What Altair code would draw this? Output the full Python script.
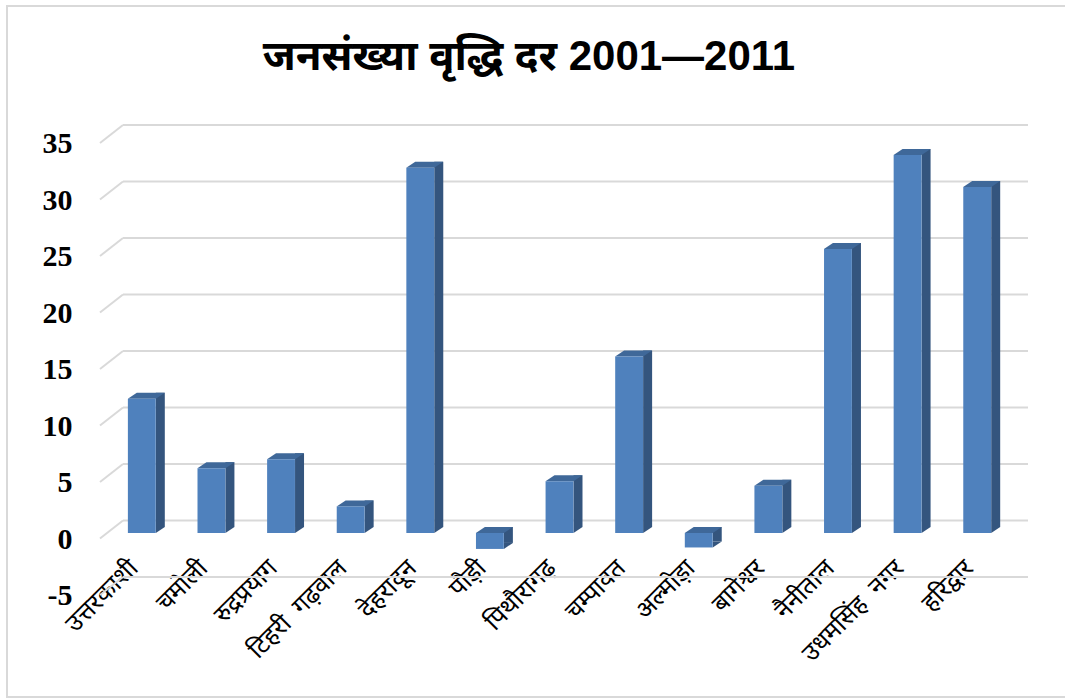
import altair as alt
import pandas as pd

districts = ["उत्तरकाशी", "चमोली", "रुद्रप्रयाग", "टिहरी \u00a0गढ़वाल", "देहरादून", "पौड़ी",
             "पिथौरागढ़", "चम्पावत", "अल्मोड़ा", "बागेश्वर", "नैनीताल", "उधमसिंह \u00a0नगर", "हरिद्वार"]
growth = [11.89, 5.74, 6.53, 2.35, 32.33, -1.41, 4.58, 15.63, -1.28, 4.18, 25.13, 33.45, 30.63]
y_ticks = [-5, 0, 5, 10, 15, 20, 25, 30, 35]
title_text = "जनसंख्या वृद्धि दर 2001—2011"

FRONT = "#4F81BD"
SIDE = "#34557E"
TOP = "#3F6899"
GRID = "#D9D9D9"
DEV_FONT = "Mangal, 'Noto Sans Devanagari', 'Lohit Devanagari', FreeSerif, 'Noto Serif Devanagari', serif"

W, H = 905, 452

df = pd.DataFrame({"district": districts, "growth": growth})
df["zero"] = 0.0
df["high"] = df["growth"].clip(lower=0)
df["low"] = df["growth"].clip(upper=0)
ticks_df = pd.DataFrame({"v": y_ticks})

yscale = alt.Scale(domain=[-5, 35], nice=False, zero=False)
xscale = alt.Scale(domain=districts, paddingInner=0.6, paddingOuter=0.3)

x_axis = alt.Axis(title=None, labelAngle=-45, labelAlign="right", labelBaseline="middle",
                  ticks=False, domain=False, grid=False, offset=-26, labelPadding=0,
                  labelOffset=-8,
                  labelFont=DEV_FONT, labelFontSize=25, labelColor="black",
                  labelOverlap=False, labelLimit=300)
y_axis = alt.Axis(title=None, values=y_ticks, ticks=False, domain=False, grid=False,
                  labelExpr="'' + datum.value",
                  labelFont="Liberation Serif", labelFontWeight="bold", labelFontSize=30,
                  labelColor="black", labelPadding=35, labelOffset=6)

X = alt.X("district:N", sort=districts, scale=xscale, axis=x_axis)

def Y(field):
    return alt.Y(field, type="quantitative", scale=yscale, axis=y_axis)

border = alt.Chart(pd.DataFrame({"a": [0]})).mark_rect(
    fill=None, stroke=GRID, strokeWidth=2
).encode(x=alt.value(-100), x2=alt.value(1070 - 107), y=alt.value(6 - 137.5), y2=alt.value(697 - 137.5))

grid_h = alt.Chart(ticks_df).mark_rule(color=GRID, strokeWidth=2, yOffset=-12.5).encode(
    x=alt.value(16), x2=alt.value(921), y=Y("v"),
)
grid_d = alt.Chart(ticks_df).mark_rule(color=GRID, strokeWidth=2, yOffset=5.5, y2Offset=-12.5).encode(
    x=alt.value(-7), x2=alt.value(16), y=Y("v"), y2="v:Q",
)

base = alt.Chart(df)

side = base.mark_bar(color=SIDE, width=9, xOffset=18.5, yOffset=-6, y2Offset=-6).encode(
    x=X, y=Y("growth"), y2="zero:Q"
)
tri = base.mark_point(shape="M14,0 L14,-6 L23,-6 Z", size=4, filled=True, opacity=1,
                      color=SIDE, strokeWidth=0).encode(x=X, y=Y("low"))
top = base.mark_point(shape="M-14,0 L14,0 L23,-6 L-5,-6 Z", size=4, filled=True, opacity=1,
                      color=TOP, strokeWidth=0).encode(x=X, y=Y("high"))
front = base.mark_bar(color=FRONT).encode(x=X, y=Y("growth"), y2="zero:Q")

title = alt.Chart(pd.DataFrame({"t": [title_text]})).mark_text(
    font="Arial, 'Liberation Sans', " + DEV_FONT, fontSize=42, fontWeight="bold",
    align="center", baseline="alphabetic", color="black"
).encode(text="t:N", x=alt.value(529 - 107), y=alt.value(70 - 137.5))

chart = alt.layer(border, grid_h, grid_d, side, tri, top, front, title).properties(
    width=W, height=H,
    autosize=alt.AutoSizeParams(type="none"),
    padding={"left": 107, "top": 137.5, "right": 1065 - 107 - W, "bottom": 698 - 137.5 - H},
    background="white",
).configure_view(stroke=None)

chart.save("out.html", embed_options={"renderer": "svg", "actions": False})
